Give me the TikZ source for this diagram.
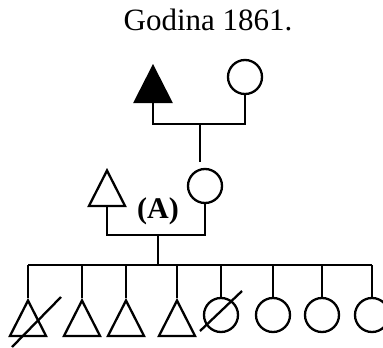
\documentclass[tikz,border=0pt]{standalone}
\usepackage{fontspec}
\setmainfont{Liberation Serif}
\usetikzlibrary{positioning,shapes.geometric,calc}

\begin{document}
\begin{tikzpicture}[x=1pt,y=-1pt,line width=2.3pt,
  male/.style={draw,isosceles triangle,isosceles triangle apex angle=54,
    shape border rotate=90,minimum width=35.5pt,minimum height=35.5pt,
    inner sep=0pt,anchor=apex},
  female/.style={draw,circle,minimum size=34pt,inner sep=0pt},
  heading/.style={font=\fontsize{31}{36}\selectfont}]
\clip (0,0) rectangle (383,348);
% Heading
\node[heading,anchor=base] (year) at (208,30) {Godina 1861.};
% Grandparents
\node[male,fill=black] (gf) at (153,64) {};
\node[female] (gm) at (245,77) {};
\coordinate (m1) at (200,124);
\draw (gf.south) |- (m1) -| (gm.south);
% Parents
\node[male] (fa) at (107,168) {};
\node[female] (mo) at (205,186) {};
\draw[shorten >=6pt] (m1) -- (m1 |- mo.north);
\coordinate (m2) at (158,235);
\draw (fa.south) |- (m2) -| (mo.south);
\node[font=\fontsize{30}{34}\selectfont\bfseries] (lblA) at (158,211) {(A)};
% Children
\coordinate (sib) at (158,265);
\draw (m2) -- (sib);
\foreach \n/\x in {c1/28,c2/82,c3/126,c4/177}{
  \node[male] (\n) at (\x,298) {};
  \draw (\n.apex |- sib) -- (\n.apex);
}
\foreach \n/\x in {c5/221,c6/273,c7/322,c8/372}{
  \node[female] (\n) at (\x,315) {};
  \draw (\n.north |- sib) -- (\n.north);
}
\draw (c1.apex |- sib) -- (c8.north |- sib);
% Deceased
\draw (12,347) -- (61,297);
\draw (200,331) -- (242,291);
\end{tikzpicture}
\end{document}
